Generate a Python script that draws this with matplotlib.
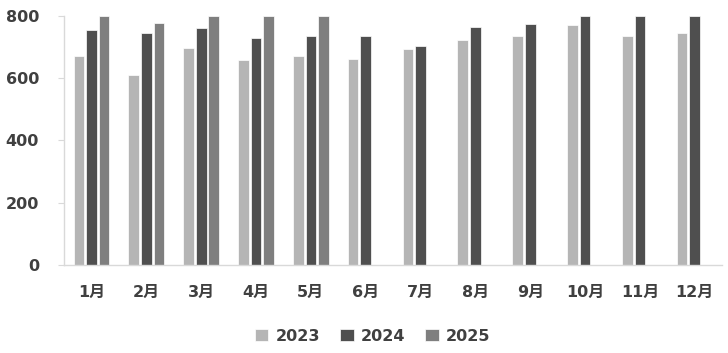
import matplotlib
matplotlib.use("Agg")
import matplotlib.pyplot as plt
import numpy as np

plt.rcParams['font.family'] = ['DejaVu Sans', 'Noto Sans CJK SC']

months = ['1月', '2月', '3月', '4月', '5月', '6月', '7月', '8月', '9月', '10月', '11月', '12月']
series_names = ['2023', '2024', '2025']
v2023 = [671, 610, 697, 658, 671, 661, 694, 723, 735, 771, 735, 745]
v2024 = [755, 745, 761, 729, 735, 735, 703, 765, 774, 800, 800, 800]
v2025 = [800, 777, 800, 800, 800, None, None, None, None, None, None, None]
colors = ['#b5b5b5', '#4f4f4f', '#7f7f7f']
yticks = [0, 200, 400, 600, 800]

fig = plt.figure(figsize=(7.28, 3.53), dpi=100)
ax = fig.add_axes([0.088, 0.249, 0.904, 0.706])

x = np.arange(len(months))
width = 0.195
offset = 0.23
for i, (vals, c, name) in enumerate(zip([v2023, v2024, v2025], colors, series_names)):
    xs = [xi + (i - 1) * offset for xi, v in zip(x, vals) if v is not None]
    ys = [v for v in vals if v is not None]
    ax.bar(xs, ys, width=width, color=c, edgecolor='white', linewidth=0.5, label=name)

ax.set_xlim(-0.5, len(months) - 0.5)
ax.set_ylim(0, 800)
ax.set_yticks(yticks)
ax.set_yticklabels([str(t) for t in yticks])
ax.set_xticks(x)
ax.set_xticklabels(months)

for s in ['top', 'right']:
    ax.spines[s].set_visible(False)
for s in ['left', 'bottom']:
    ax.spines[s].set_color('#d9d9d9')
    ax.spines[s].set_linewidth(1.0)

ax.tick_params(axis='y', length=4, color='#d9d9d9', pad=14, labelsize=11.5, labelcolor='#404040')
ax.tick_params(axis='x', length=0, pad=14, labelsize=11.5, labelcolor='#404040')
for lab in ax.get_xticklabels() + ax.get_yticklabels():
    lab.set_fontweight('bold')

leg = fig.legend(loc='center', bbox_to_anchor=(0.512, 0.048), ncol=3, frameon=False,
                 handlelength=0.85, handleheight=0.85, handletextpad=0.45,
                 columnspacing=1.25, prop={'size': 11.5, 'weight': 'bold'})
for t in leg.get_texts():
    t.set_color('#404040')

fig.savefig('out.png', dpi=100)
